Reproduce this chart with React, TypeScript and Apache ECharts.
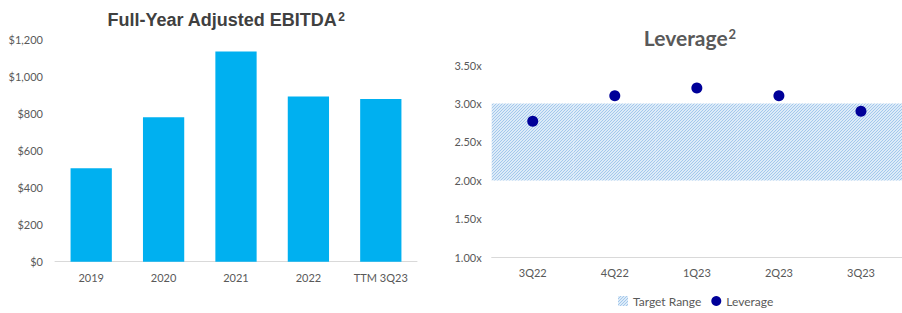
import React, { useEffect, useRef } from "react";
import * as echarts from "echarts";

const ebitdaCategories = ["2019", "2020", "2021", "2022", "TTM 3Q23"];
const ebitdaValues = [505, 780, 1135, 892, 878];

const leverageCategories = ["3Q22", "4Q22", "1Q23", "2Q23", "3Q23"];
const leverageValues = [2.77, 3.1, 3.2, 3.1, 2.9];
const targetLow = 2.0;
const targetHigh = 3.0;

function makeHatch() {
  const n = 3;
  const c = document.createElement("canvas");
  c.width = n;
  c.height = n;
  const ctx = c.getContext("2d")!;
  ctx.fillStyle = "#DDEBF8";
  ctx.fillRect(0, 0, n, n);
  ctx.fillStyle = "#A3C8EC";
  for (let x = 0; x < n; x++) {
    for (let y = 0; y < n; y++) {
      if ((x + y) % n === n - 1) ctx.fillRect(x, y, 1, 1);
    }
  }
  return c;
}

export default function App() {
  const ref = useRef<HTMLDivElement>(null);
  useEffect(() => {
    if (!ref.current) return;
    const chart = echarts.init(ref.current, null, { renderer: "svg" });
    const hatch = { image: makeHatch(), repeat: "repeat" } as any;
    const labelColor = "#595959";
    const font = "Lato";
    chart.setOption({
      animation: false,
      backgroundColor: "#ffffff",
      title: [
        {
          text: "Full-Year Adjusted EBITDA{s|2}",
          left: 221,
          top: 6,
          textAlign: "center",
          textStyle: {
            fontFamily: "Liberation Sans",
            fontWeight: "bold",
            fontSize: 18,
            color: "#404040",
            rich: {
              s: { fontFamily: "Liberation Sans", fontWeight: "bold", fontSize: 12, color: "#404040", verticalAlign: "top", padding: [0, 0, 0, 1] },
            },
          },
        },
        {
          text: "Leverage{s|2}",
          left: 685,
          top: 22,
          textAlign: "center",
          textStyle: {
            fontFamily: font,
            fontWeight: "bold",
            fontSize: 21,
            color: "#595959",
            rich: {
              s: { fontFamily: font, fontWeight: "bold", fontSize: 13, color: "#595959", verticalAlign: "top", padding: [0, 0, 0, 1] },
            },
          },
        },
      ],
      legend: {
        data: [
          { name: "Target Range", icon: "rect", itemStyle: { color: hatch } },
          { name: "Leverage", icon: "circle" },
        ],
        left: 613,
        top: 290,
        itemWidth: 10,
        itemHeight: 10,
        itemGap: 10,
        textStyle: { fontFamily: font, fontSize: 12, color: labelColor },
      },
      grid: [
        { left: 55, right: 485, top: 39.5, bottom: 51.3 },
        { left: 491.7, right: -8, top: 65, bottom: 55.7 },
      ],
      xAxis: [
        {
          type: "category",
          gridIndex: 0,
          data: ebitdaCategories,
          axisLine: { lineStyle: { color: "#D9D9D9" } },
          axisTick: { show: false },
          axisLabel: { color: labelColor, fontFamily: font, fontSize: 11, margin: 10 },
        },
        {
          type: "category",
          gridIndex: 1,
          data: leverageCategories,
          axisLine: { lineStyle: { color: "#D9D9D9" } },
          axisTick: { show: false },
          axisLabel: { color: labelColor, fontFamily: font, fontSize: 11, margin: 10 },
        },
      ],
      yAxis: [
        {
          type: "value",
          gridIndex: 0,
          min: 0,
          max: 1200,
          interval: 200,
          splitLine: { show: false },
          axisLine: { show: false },
          axisTick: { show: false },
          axisLabel: {
            color: labelColor,
            fontFamily: font,
            fontSize: 11,
            margin: 12,
            formatter: (v: number) => "$" + v.toLocaleString("en-US"),
          },
        },
        {
          type: "value",
          gridIndex: 1,
          min: 1,
          max: 3.5,
          interval: 0.5,
          splitLine: { show: false },
          axisLine: { show: false },
          axisTick: { show: false },
          axisLabel: {
            color: labelColor,
            fontFamily: font,
            fontSize: 11,
            margin: 10,
            formatter: (v: number) => v.toFixed(2) + "x",
          },
        },
      ],
      series: [
        {
          type: "bar",
          name: "EBITDA",
          xAxisIndex: 0,
          yAxisIndex: 0,
          data: ebitdaValues,
          barWidth: "57%",
          itemStyle: { color: "#00B0F0" },
        },
        {
          type: "bar",
          name: "base",
          xAxisIndex: 1,
          yAxisIndex: 1,
          stack: "range",
          data: leverageCategories.map(() => targetLow),
          barWidth: "100%",
          itemStyle: { color: "rgba(0,0,0,0)" },
          silent: true,
        },
        {
          type: "bar",
          name: "Target Range",
          xAxisIndex: 1,
          yAxisIndex: 1,
          stack: "range",
          data: leverageCategories.map(() => targetHigh - targetLow),
          barWidth: "100%",
          itemStyle: { color: hatch },
        },
        {
          type: "scatter",
          name: "Leverage",
          xAxisIndex: 1,
          yAxisIndex: 1,
          data: leverageValues,
          symbolSize: 11,
          itemStyle: { color: "#000099", opacity: 1 },
          z: 5,
        },
      ],
    });
    return () => chart.dispose();
  }, []);
  return (
    <div
      ref={ref}
      style={{ position: "absolute", left: 0, top: 0, width: 902, height: 313 }}
    />
  );
}
